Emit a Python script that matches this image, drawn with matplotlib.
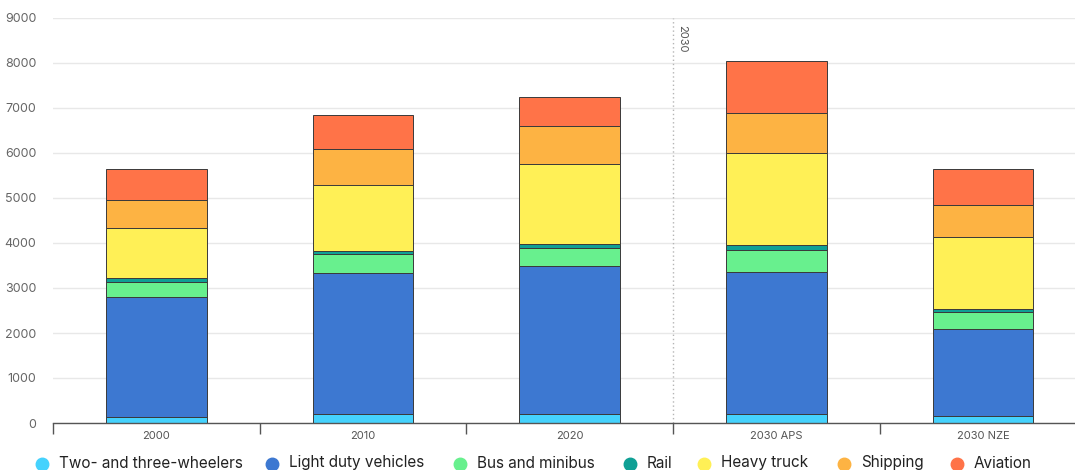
import matplotlib
matplotlib.use("Agg")
import matplotlib.pyplot as plt
from matplotlib.lines import Line2D
import numpy as np

categories = ["2000", "2010", "2020", "2030 APS", "2030 NZE"]
two_three_wheelers = [140, 195, 195, 195, 155]
light_duty_vehicles = [2660, 3130, 3285, 3155, 1925]
bus_and_minibus = [333, 420, 415, 505, 385]
rail = [90, 80, 85, 90, 60]
heavy_truck = [1120, 1475, 1785, 2045, 1615]
shipping = [615, 790, 835, 895, 705]
aviation = [680, 765, 635, 1150, 795]

series_names = ["Two- and three-wheelers", "Light duty vehicles", "Bus and minibus",
                "Rail", "Heavy truck", "Shipping", "Aviation"]
series_values = [two_three_wheelers, light_duty_vehicles, bus_and_minibus,
                 rail, heavy_truck, shipping, aviation]
colors = ["#45d2fd", "#3d78d1", "#68f08e", "#0fa095", "#fff056", "#fdb343", "#ff7348"]

y_ticks = [0, 1000, 2000, 3000, 4000, 5000, 6000, 7000, 8000, 9000]

plt.rcParams["font.family"] = ["Inter", "DejaVu Sans"]

W, H = 1075, 470
fig = plt.figure(figsize=(W / 100, H / 100), dpi=100)
ax = fig.add_axes([53 / W, 47 / H, (1086.5 - 53) / W, (423 - 18) / H])

x = np.arange(len(categories))
bottom = np.zeros(len(categories))
for name, vals, col in zip(series_names, series_values, colors):
    vals = np.array(vals, dtype=float)
    ax.bar(x, vals, width=0.487, bottom=bottom, color=col, edgecolor="#3a3a3a",
           linewidth=0.7, label=name, zorder=3)
    bottom += vals

ax.set_xlim(-0.5, len(categories) - 0.5)
ax.set_ylim(0, 9000)
ax.set_yticks(y_ticks)
ax.set_yticklabels([str(t) for t in y_ticks])
ax.grid(axis="y", color="#e8e8e8", linewidth=1, zorder=0)
ax.set_axisbelow(True)

# category labels at centres, boundary tick marks between them
ax.set_xticks(np.arange(-0.5, len(categories), 1.0))
ax.set_xticklabels([])
ax.set_xticks(x, minor=True)
ax.set_xticklabels(categories, minor=True)
ax.tick_params(axis="x", which="major", length=8, width=1, color="#555555", direction="out")
ax.tick_params(axis="x", which="minor", length=0, pad=6, labelsize=8, labelcolor="#555555")
ax.tick_params(axis="y", length=0, pad=12, labelsize=9, labelcolor="#666666")

for side in ["top", "right", "left"]:
    ax.spines[side].set_visible(False)
ax.spines["bottom"].set_color("#555555")
ax.spines["bottom"].set_linewidth(1)
ax.spines["bottom"].set_zorder(4)

# marker for the start of the 2030 scenarios
ax.axvline(2.5, color="#b5b5b5", linestyle=(0, (1, 2)), linewidth=1, zorder=2)
ax.text(2.52, 8850, "2030", rotation=270, va="top", ha="left", fontsize=8, color="#555555")

# legend row along the bottom edge
legend_marker_x = [42, 272, 460, 630, 704, 844, 957]
legend_y = 464
for mx, name, col in zip(legend_marker_x, series_names, colors):
    fig.add_artist(Line2D([mx / W], [1 - legend_y / H], marker="o", linestyle="none",
                          markersize=9, markerfacecolor=col, markeredgecolor=col,
                          transform=fig.transFigure))
    fig.text((mx + 17) / W, 2.5 / H, name, ha="left", va="baseline",
             fontsize=11, color="#222222")

fig.savefig("out.png", dpi=100)
